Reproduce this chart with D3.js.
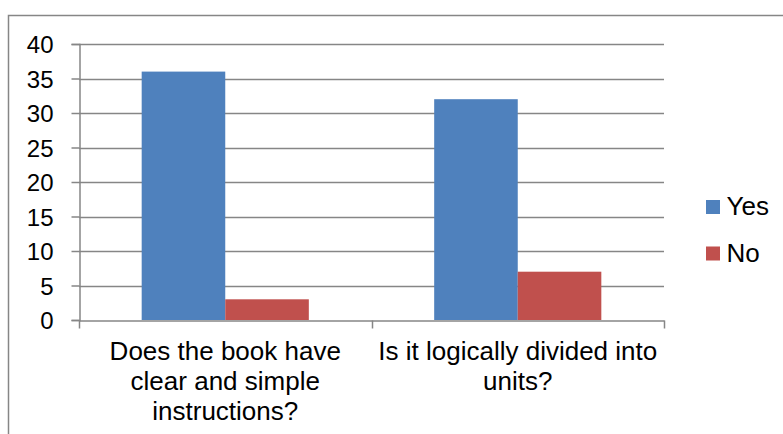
<!DOCTYPE html>
<html><head><meta charset="utf-8">
<script src="https://cdn.jsdelivr.net/npm/d3@7"></script>
<style>body{margin:0;background:#fff}svg{display:block}text{font-family:"Liberation Sans",Arial,sans-serif;fill:#000}</style>
</head><body><svg id="c" width="783" height="434"></svg>
<script>
const categories = ["Does the book have clear and simple instructions?", "Is it logically divided into units?"];
const categoryLines = [["Does the book have","clear and simple","instructions?"],["Is it logically divided into","units?"]];
const seriesNames = ["Yes","No"];
const yesValues = [36, 32];
const noValues = [3, 7];
const yTicks = [0,5,10,15,20,25,30,35,40];
const colors = ["#4F81BD","#C0504D"];

const svg = d3.select("#c");
svg.append("rect").attr("x",8.5).attr("y",15.5).attr("width",800).attr("height",500)
  .attr("fill","none").attr("stroke","#868686").attr("stroke-width",1.5);

const L=79, R=664, T=44, B=320;
const x = d3.scaleBand().domain(categories).range([L,R]).paddingInner(0).paddingOuter(0);
const y = d3.scaleLinear().domain([0,40]).range([B,T]);
const inner = d3.scaleBand().domain(seriesNames).range([0,x.bandwidth()]).paddingInner(0).paddingOuter(0.75);

// gridlines
svg.append("g").selectAll("line").data(yTicks.filter(d=>d>0)).join("line")
  .attr("x1",L).attr("x2",R).attr("y1",d=>Math.round(y(d))+0.5).attr("y2",d=>Math.round(y(d))+0.5)
  .attr("stroke","#868686").attr("stroke-width",1.3);

// bars
const data = categories.map((c,i)=>({c, vals:[yesValues[i],noValues[i]]}));
const g = svg.append("g").selectAll("g").data(data).join("g").attr("transform",d=>`translate(${x(d.c)},0)`);
g.selectAll("rect").data(d=>d.vals.map((v,j)=>({s:seriesNames[j],v,j}))).join("rect")
  .attr("x",d=>inner(d.s)).attr("width",inner.bandwidth())
  .attr("y",d=>y(d.v)).attr("height",d=>B-y(d.v)).attr("fill",d=>colors[d.j]);

// y axis
const ya = svg.append("g").attr("transform",`translate(${L+0.5},0)`)
  .call(d3.axisLeft(y).tickValues(yTicks).tickSize(8).tickPadding(18).tickFormat(d3.format("d")));
ya.attr("font-size",null).attr("font-family",null);
ya.select(".domain").attr("stroke","#868686").attr("stroke-width",1.5);
ya.selectAll(".tick line").attr("stroke","#868686").attr("stroke-width",1.5);
ya.selectAll(".tick text").attr("font-size",24).attr("dy","0.37em").attr("fill","#000");

// x axis
const xa = svg.append("g").attr("transform",`translate(0,${B+0.5})`)
  .call(d3.axisBottom(x).tickSize(0).tickFormat(""));
xa.select(".domain").attr("stroke","#868686").attr("stroke-width",1.5);
xa.selectAll(".tick").remove();
const bounds = [L, ...categories.map(c=>x(c)+x.bandwidth())];
xa.selectAll("line.b").data(bounds).join("line").attr("class","b")
  .attr("x1",d=>Math.round(d)+0.5).attr("x2",d=>Math.round(d)+0.5).attr("y1",0).attr("y2",8)
  .attr("stroke","#868686").attr("stroke-width",1.5);

// category labels
const lab = svg.append("g").selectAll("text").data(categories).join("text")
  .attr("text-anchor","middle").attr("font-size",26)
  .attr("transform",c=>`translate(${x(c)+x.bandwidth()/2},360)`);
lab.selectAll("tspan").data((c,i)=>categoryLines[i]).join("tspan")
  .attr("x",0).attr("dy",(d,i)=>i===0?0:30).text(d=>d);

// legend
const lg = svg.append("g").selectAll("g").data(seriesNames).join("g")
  .attr("transform",(d,i)=>`translate(706,${200+i*46.5})`);
lg.append("rect").attr("width",14).attr("height",14).attr("fill",(d,i)=>colors[i]);
lg.append("text").attr("x",20.5).attr("y",15).attr("font-size",26).text(d=>d);
</script></body></html>
